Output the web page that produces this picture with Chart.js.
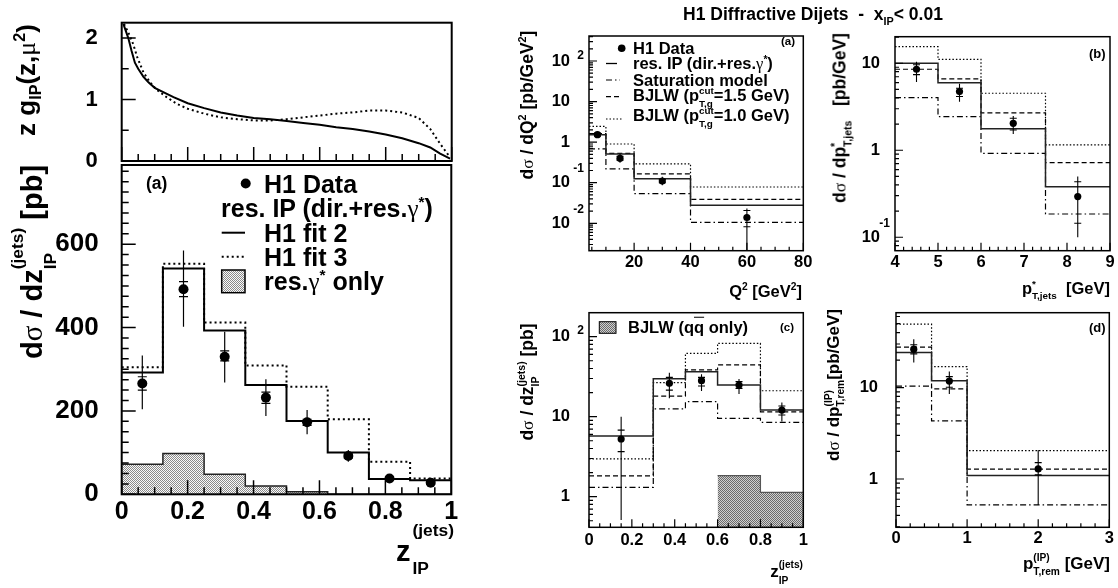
<!DOCTYPE html>
<html>
<head>
<meta charset="utf-8">
<title>H1 Diffractive Dijets</title>
<script src="https://cdn.jsdelivr.net/npm/chart.js@4.4.1/dist/chart.umd.min.js"></script>
<style>
  body { margin: 0; background: #fff; }
  #page { position: relative; width: 1118px; height: 588px; overflow: hidden;
          font-family: "Liberation Sans", Arial, Helvetica, sans-serif; font-weight: bold; color: #000; }
  #page canvas { position: absolute; left: 0; top: 0; }
  .t { position: absolute; white-space: nowrap; line-height: 1; z-index: 2; transform: translateY(-50%); }
  .r { transform: translate(-100%, -50%); }
  .c { transform: translate(-50%, -50%); }
  .rot { transform: translate(-50%, -50%) rotate(-90deg); }
  .g { font-family: "Liberation Serif", "DejaVu Serif", serif; font-weight: normal; }
  .t sup, .t sub { font-size: 0.62em; line-height: 0; }
  .ss { display: inline-flex; flex-direction: column; vertical-align: middle; font-size: 0.6em; line-height: 1; row-gap: 0.5em; }
</style>
</head>
<body>
<div id="page">
  <canvas id="cG" width="1118" height="588"></canvas>
  <canvas id="cZ" width="1118" height="588"></canvas>
  <canvas id="cQ" width="1118" height="588"></canvas>
  <canvas id="cP" width="1118" height="588"></canvas>
  <canvas id="cC" width="1118" height="588"></canvas>
  <canvas id="cD" width="1118" height="588"></canvas>

  <!-- titles -->
  <div class="t c" style="left:813px;top:15px;font-size:17.5px">H1 Diffractive Dijets &nbsp;- &nbsp;x<sub>IP</sub>&lt; 0.01</div>

  <!-- left panels -->
  <div class="t rot" style="left:26px;top:80px;font-size:26px">z g<sub>IP</sub>(z,<span class="g">μ</span><sup>2</sup>)</div>
  <div class="t rot" style="left:34px;top:262px;font-size:29px">d<span class="g">σ</span> / dz<span class="ss" style="row-gap:0.9em"><span>(jets)</span><span>IP</span></span> [pb]</div>
  <div class="t r" style="left:452px;top:553px;font-size:29px">z<span class="ss" style="row-gap:1.2em;position:relative;top:-3px;left:2px"><span>(jets)</span><span>IP</span></span></div>

  <div class="t" style="left:146px;top:184px;font-size:17.5px">(a)</div>
  <div class="t" style="left:264px;top:184px;font-size:25px">H1 Data</div>
  <div class="t" style="left:221px;top:208px;font-size:25px">res. IP (dir.+res.<span class="g">γ</span><sup>*</sup>)</div>
  <div class="t" style="left:264px;top:233px;font-size:25px">H1 fit 2</div>
  <div class="t" style="left:264px;top:257px;font-size:25px">H1 fit 3</div>
  <div class="t" style="left:264px;top:281px;font-size:25px">res.<span class="g">γ</span><sup>*</sup> only</div>

  <!-- right (a) -->
  <div class="t rot" style="left:528px;top:105px;font-size:17.5px">d<span class="g">σ</span> / dQ<sup>2</sup> [pb/GeV<sup>2</sup>]</div>
  <div class="t r" style="left:802px;top:291px;font-size:16.5px">Q<sup>2</sup> [GeV<sup>2</sup>]</div>
  <div class="t" style="left:781px;top:42px;font-size:11.5px">(a)</div>
  <div class="t" style="left:633px;top:48px;font-size:16.5px">H1 Data</div>
  <div class="t" style="left:633px;top:64px;font-size:16.5px">res. IP (dir.+res.<span class="g">γ</span><sup>*</sup>)</div>
  <div class="t" style="left:633px;top:80px;font-size:16.5px">Saturation model</div>
  <div class="t" style="left:633px;top:97px;font-size:16.5px">BJLW (p<span class="ss" style="row-gap:0.3em"><span>cut</span><span>T,g</span></span>=1.5 GeV)</div>
  <div class="t" style="left:633px;top:117px;font-size:16.5px">BJLW (p<span class="ss" style="row-gap:0.3em"><span>cut</span><span>T,g</span></span>=1.0 GeV)</div>

  <!-- right (b) -->
  <div class="t rot" style="left:841px;top:118px;font-size:17.5px">d<span class="g">σ</span> / dp<span class="ss" style="row-gap:0.2em"><span>*</span><span>T,jets</span></span> &nbsp; [pb/GeV]</div>
  <div class="t r" style="left:1110px;top:290px;font-size:16.5px">p<span class="ss" style="row-gap:0.2em"><span>*</span><span>T,jets</span></span> &nbsp;[GeV]</div>
  <div class="t" style="left:1089px;top:53px;font-size:13px">(b)</div>

  <!-- right (c) -->
  <div class="t rot" style="left:528px;top:382px;font-size:17.5px">d<span class="g">σ</span> / dz<span class="ss" style="row-gap:0.3em"><span>(jets)</span><span>IP</span></span> [pb]</div>
  <div class="t r" style="left:803px;top:573px;font-size:17px">z<span class="ss" style="row-gap:0.6em"><span>(jets)</span><span>IP</span></span></div>
  <div class="t" style="left:780px;top:328px;font-size:11.5px">(c)</div>
  <div class="t" style="left:628px;top:327px;font-size:16.5px">BJLW (q<span style="text-decoration:overline">q</span> only)</div>

  <!-- right (d) -->
  <div class="t rot" style="left:835px;top:385px;font-size:17px">d<span class="g">σ</span> / dp<span class="ss" style="row-gap:0.2em"><span>(IP)</span><span>T,rem</span></span>[pb/GeV]</div>
  <div class="t r" style="left:1110px;top:565px;font-size:17px">p<span class="ss" style="row-gap:0.4em"><span>(IP)</span><span>T,rem</span></span> [GeV]</div>
  <div class="t" style="left:1089px;top:327px;font-size:13px">(d)</div>
</div>

<script>
const W = 1118, H = 588;

// ---- upper left: z g_IP(z, mu^2), H1 fit 2 and fit 3
const gZ2 = [0.005, 0.02, 0.03, 0.04, 0.05, 0.066, 0.081, 0.1, 0.126, 0.157, 0.2, 0.25, 0.3, 0.35, 0.4, 0.45, 0.5, 0.55, 0.6, 0.65, 0.7, 0.75, 0.8, 0.85, 0.9, 0.935, 0.965, 0.995];
const gFit2 = [2.23, 2.0, 1.79, 1.6, 1.5, 1.37, 1.28, 1.19, 1.12, 1.04, 0.94, 0.86, 0.79, 0.74, 0.70, 0.68, 0.65, 0.62, 0.59, 0.55, 0.52, 0.48, 0.43, 0.37, 0.29, 0.22, 0.12, 0.04];
const gZ3 = [0.007, 0.02, 0.035, 0.047, 0.066, 0.086, 0.106, 0.136, 0.167, 0.2, 0.25, 0.3, 0.35, 0.4, 0.45, 0.5, 0.55, 0.6, 0.65, 0.7, 0.75, 0.8, 0.85, 0.9, 0.935, 0.965, 0.995];
const gFit3 = [2.23, 2.09, 1.9, 1.69, 1.44, 1.28, 1.16, 1.04, 0.93, 0.85, 0.77, 0.71, 0.68, 0.66, 0.66, 0.68, 0.71, 0.74, 0.77, 0.79, 0.82, 0.82, 0.79, 0.70, 0.52, 0.28, 0.06];
const gTicks = [0, 1, 2];
const gTickText = ['0', '1', '2'];

// ---- lower left (a): dsigma/dz_IP [pb]
const zEdges = [0, 0.125, 0.25, 0.375, 0.5, 0.625, 0.75, 0.875, 1];
const zFit2 = [292, 542, 393, 262, 176, 100, 37, 34];
const zFit3 = [305, 553, 412, 309, 258, 180, 78, 38];
const zResGam = [72, 98, 48, 20, 6, 0, 0, 0];
const zX = [0.0625, 0.1875, 0.3125, 0.4375, 0.5625, 0.6875, 0.8125, 0.9375];
const zData = [266, 492, 330, 232, 173, 92, 38, 28];
const zStatLo = [250, 474, 320, 218, 165, 87, 35, 25];
const zStatHi = [282, 510, 344, 245, 180, 97, 41, 31];
const zTotLo = [204, 402, 268, 188, 144, 78, 32, 23];
const zTotHi = [333, 585, 390, 276, 202, 106, 44, 33];
const zXTicks = [0, 0.2, 0.4, 0.6, 0.8, 1];
const zXText = ['0', '0.2', '0.4', '0.6', '0.8', '1'];
const zYTicks = [0, 200, 400, 600];
const zYText = ['0', '200', '400', '600'];

// ---- right (a): dsigma/dQ2
const qEdges = [4, 10, 20, 40, 80];
const qResIP = [1.53, 0.51, 0.125, 0.028];
const qSat = [0.68, 0.22, 0.054, 0.0105];
const qB15 = [1.62, 0.53, 0.166, 0.039];
const qB10 = [2.45, 0.90, 0.29, 0.0785];
const qX = [7, 15, 30, 60];
const qData = [1.53, 0.40, 0.110, 0.0139];
const qStatLo = [1.40, 0.36, 0.100, 0.0082];
const qStatHi = [1.67, 0.45, 0.121, 0.0206];
const qTotLo = [1.30, 0.31, 0.086, 0.0015];
const qTotHi = [1.80, 0.52, 0.141, 0.023];
const qXTicks = [20, 40, 60, 80];
const qXText = ['20', '40', '60', '80'];
const qYTicks = [100, 10, 1, 0.1, 0.01];
const qYText = ['10^2', '10', '1', '10^-1', '10^-2'];

// ---- right (b): dsigma/dp*_T,jets
const pEdges = [4, 5, 6, 7.5, 9];
const pResIP = [10, 5.98, 1.77, 0.38];
const pSat = [4.03, 2.43, 0.92, 0.185];
const pB15 = [8.53, 6.6, 2.69, 0.72];
const pB10 = [15.5, 11.1, 4.52, 1.15];
const pX = [4.5, 5.5, 6.75, 8.25];
const pData = [8.53, 4.72, 2.04, 0.293];
const pStatLo = [7.4, 4.14, 1.71, 0.145];
const pStatHi = [9.6, 5.16, 2.33, 0.435];
const pTotLo = [6.1, 3.6, 1.54, 0.1];
const pTotHi = [10.4, 5.8, 2.48, 0.50];
const pXTicks = [4, 5, 6, 7, 8, 9];
const pXText = ['4', '5', '6', '7', '8', '9'];
const pYTicks = [10, 1, 0.1];
const pYText = ['10', '1', '10^-1'];

// ---- right (c): dsigma/dz_IP (log)
const cEdges = [0, 0.3, 0.45, 0.6, 0.8, 1];
const cResIP = [5.74, 29.9, 36.5, 24.9, 12.1];
const cSat = [1.31, 12.5, 15.4, 9.5, 8.5];
const cB15 = [1.82, 18.1, 38.4, 44.3, 11.5];
const cB10 = [2.96, 26.6, 61.8, 82.7, 21.1];
const cQQ = [0, 0, 0, 1.83, 1.13];
const cX = [0.15, 0.375, 0.525, 0.7, 0.9];
const cData = [5.26, 26.1, 28.2, 24.9, 12.1];
const cStatLo = [3.66, 21.5, 24.2, 22.6, 10.5];
const cStatHi = [6.8, 31, 31, 27.4, 13.6];
const cTotLo = [0.51, 17, 21, 19.2, 8.7];
const cTotHi = [10, 35.5, 34, 29.6, 15];
const cXTicks = [0, 0.2, 0.4, 0.6, 0.8, 1];
const cXText = ['0', '0.2', '0.4', '0.6', '0.8', '1'];
const cYTicks = [100, 10, 1];
const cYText = ['10^2', '10', '1'];

// ---- right (d): dsigma/dp_T,rem
const dEdges = [0, 0.5, 1, 3];
const dResIP = [24.2, 11.9, 1.09];
const dSat = [10.4, 4.32, 0.52];
const dB15 = [27.7, 9.68, 1.28];
const dB10 = [49.4, 17.0, 2.04];
const dX = [0.25, 0.75, 2];
const dData = [26.3, 11.8, 1.29];
const dStatLo = [23.4, 10.1, 1.11];
const dStatHi = [29.4, 13.2, 1.51];
const dTotLo = [18.8, 8.5, 0.52];
const dTotHi = [33.9, 15, 2.08];
const dXTicks = [0, 1, 2, 3];
const dXText = ['0', '1', '2', '3'];
const dYTicks = [10, 1];
const dYText = ['10', '1'];

// line styles
const DOT = [2, 3], DASH = [6, 4];
const DOT_R = [1.5, 2], DASH_R = [5, 3], DD_R = [6, 3, 1.5, 3];
const FONT = '"Liberation Sans", Arial, sans-serif';

function range(a, b, s) {
  const out = [];
  for (let v = a; v <= b + 1e-9; v += s) out.push(+v.toFixed(6));
  return out;
}
function logMinors(min, max) {
  const out = [];
  for (let d = Math.floor(Math.log10(min)); d <= Math.ceil(Math.log10(max)); d++) {
    for (let k = 2; k <= 9; k++) {
      const v = k * Math.pow(10, d);
      if (v > min && v < max) out.push(v);
    }
  }
  return out;
}
function dots(bg, fg) {
  const c = document.createElement('canvas');
  c.width = c.height = 2;
  const x = c.getContext('2d');
  x.fillStyle = bg; x.fillRect(0, 0, 2, 2);
  x.fillStyle = fg; x.fillRect(0, 0, 1, 1); x.fillRect(1, 1, 1, 1);
  return x.createPattern(c, 'repeat');
}
const hatchLeft = dots('#fafafa', '#8a8a8a');
const hatchRight = dots('#cfcfcf', '#6a6a6a');

function steps(edges, vals, dash, lw, color, extra) {
  const pts = vals.map((v, i) => ({ x: edges[i], y: v }));
  pts.push({ x: edges[edges.length - 1], y: vals[vals.length - 1] });
  return Object.assign({
    data: pts.filter(p => p.y > 0 || !extra || !extra.skipZero),
    stepped: true, borderColor: color, borderWidth: lw, borderDash: dash,
    pointRadius: 0, fill: false
  }, extra || {});
}
function curve(xs, ys, dash) {
  return { data: xs.map((x, i) => ({ x, y: ys[i] })), borderColor: '#000', borderWidth: 2,
           borderDash: dash, pointRadius: 0, tension: 0, fill: false };
}
function points(xs, ys, r) {
  return { data: xs.map((x, i) => ({ x, y: ys[i] })), showLine: false, pointRadius: r,
           pointBackgroundColor: '#000', pointBorderColor: '#000', pointBorderWidth: 0 };
}

function framePlugin(cfg) {
  return {
    id: 'frame' + cfg.id,
    afterDatasetsDraw(chart) {
      const { ctx, chartArea: a, scales: { x, y } } = chart;
      ctx.save();
      if (cfg.err) {
        const e = cfg.err;
        ctx.beginPath();
        ctx.rect(a.left, a.top, a.right - a.left, a.bottom - a.top);
        ctx.clip();
        ctx.strokeStyle = '#000';
        ctx.lineWidth = e.lw;
        e.x.forEach((xv, i) => {
          const px = x.getPixelForValue(xv);
          ctx.beginPath();
          ctx.moveTo(px, y.getPixelForValue(e.totLo[i]));
          ctx.lineTo(px, y.getPixelForValue(e.totHi[i]));
          [e.statLo[i], e.statHi[i]].forEach(v => {
            const py = y.getPixelForValue(v);
            ctx.moveTo(px - e.cap, py);
            ctx.lineTo(px + e.cap, py);
          });
          ctx.stroke();
        });
        ctx.restore();
        ctx.save();
      }
      ctx.strokeStyle = '#000';
      ctx.lineWidth = cfg.frameW;
      ctx.strokeRect(a.left, a.top, a.right - a.left, a.bottom - a.top);
      // inward ticks
      ctx.lineWidth = cfg.tickW;
      ctx.beginPath();
      const xt = (v, len) => { const p = x.getPixelForValue(v); ctx.moveTo(p, a.bottom); ctx.lineTo(p, a.bottom - len); };
      const yt = (v, len) => { const p = y.getPixelForValue(v); ctx.moveTo(a.left, p); ctx.lineTo(a.left + len, p); };
      cfg.xMaj.forEach(v => xt(v, cfg.tlMaj));
      cfg.xMin.forEach(v => xt(v, cfg.tlMin));
      cfg.yMaj.forEach(v => yt(v, cfg.tlMaj));
      cfg.yMin.forEach(v => yt(v, cfg.tlMin));
      ctx.stroke();
      // tick labels
      ctx.fillStyle = '#000';
      if (cfg.xLab) {
        ctx.font = 'bold ' + cfg.xLab.font + 'px ' + FONT;
        ctx.textAlign = 'center';
        ctx.textBaseline = 'middle';
        cfg.xLab.vals.forEach((v, i) => ctx.fillText(cfg.xLab.text[i], x.getPixelForValue(v), a.bottom + cfg.xLab.off));
      }
      if (cfg.yLab) {
        const L = cfg.yLab;
        cfg.yLab.vals.forEach((v, i) => {
          const py = y.getPixelForValue(v);
          const [base, exp] = L.text[i].split('^');
          ctx.font = 'bold ' + L.font + 'px ' + FONT;
          ctx.textAlign = 'right';
          ctx.textBaseline = 'middle';
          ctx.fillText(base, a.left - L.gap, py);
          if (exp) {
            ctx.font = 'bold ' + L.expFont + 'px ' + FONT;
            ctx.textAlign = 'right';
            const up = exp[0] === '-' ? 0.85 : 0.35;
            ctx.fillText(exp, a.left - 5, py - up * L.font);
          }
        });
      }
      ctx.restore();
    },
    afterDraw(chart) {
      if (!cfg.legend) return;
      const ctx = chart.ctx;
      ctx.save();
      cfg.legend.forEach(it => {
        ctx.setLineDash(it.dash || []);
        ctx.strokeStyle = '#000';
        ctx.lineWidth = it.lw || 1.5;
        if (it.kind === 'dot') {
          ctx.fillStyle = '#000';
          ctx.beginPath(); ctx.arc(it.x, it.y, it.r, 0, Math.PI * 2); ctx.fill();
        } else if (it.kind === 'line') {
          ctx.beginPath(); ctx.moveTo(it.x1, it.y); ctx.lineTo(it.x2, it.y); ctx.stroke();
        } else if (it.kind === 'box') {
          ctx.fillStyle = it.fill;
          ctx.fillRect(it.x, it.y, it.w, it.h);
          ctx.strokeRect(it.x, it.y, it.w, it.h);
        }
      });
      ctx.restore();
    }
  };
}

function makeChart(cfg) {
  const [x1, y1, x2, y2] = cfg.area;
  return new Chart(document.getElementById(cfg.id), {
    type: 'line',
    data: { datasets: cfg.datasets },
    options: {
      responsive: false,
      animation: false,
      events: [],
      layout: { autoPadding: false, padding: { left: x1, top: y1, right: W - x2, bottom: H - y2 } },
      plugins: { legend: { display: false }, tooltip: { enabled: false } },
      scales: {
        x: { type: 'linear', display: false, min: cfg.xr[0], max: cfg.xr[1], bounds: 'data' },
        y: { type: cfg.log ? 'logarithmic' : 'linear', display: false, min: cfg.yr[0], max: cfg.yr[1], bounds: 'data' }
      }
    },
    plugins: [framePlugin(cfg)]
  });
}

const leftStyle = { frameW: 2, tickW: 1.5, tlMaj: 14, tlMin: 7 };
const rightStyle = { frameW: 1.5, tickW: 1.2, tlMaj: 8, tlMin: 4 };

// upper left
makeChart(Object.assign({
  id: 'cG', area: [121.7, 22.7, 451.7, 161], xr: [0, 1], yr: [0, 2.25],
  xMaj: range(0, 1, 0.2), xMin: range(0, 1, 0.05), yMaj: gTicks, yMin: [0.5, 1.5],
  yLab: { vals: gTicks, text: gTickText, font: 22, gap: 24 },
  datasets: [curve(gZ2, gFit2, []), curve(gZ3, gFit3, DOT)]
}, leftStyle));

// lower left (a)
makeChart(Object.assign({
  id: 'cZ', area: [121.7, 165, 451.3, 494.3], xr: [0, 1], yr: [0, 790],
  xMaj: range(0, 1, 0.2), xMin: range(0, 1, 0.05), yMaj: zYTicks, yMin: range(0, 775, 25),
  xLab: { vals: zXTicks, text: zXText, font: 25, off: 18 },
  yLab: { vals: zYTicks, text: zYText, font: 26, gap: 23 },
  err: { x: zX, statLo: zStatLo, statHi: zStatHi, totLo: zTotLo, totHi: zTotHi, cap: 4.5, lw: 1.2 },
  legend: [
    { kind: 'dot', x: 245.7, y: 183.5, r: 5 },
    { kind: 'line', x1: 221.7, x2: 245, y: 232.7, lw: 2 },
    { kind: 'line', x1: 221.7, x2: 245, y: 256.7, lw: 2, dash: DOT },
    { kind: 'box', x: 221.7, y: 270, w: 23.3, h: 22.7, fill: hatchLeft, lw: 1.5 }
  ],
  datasets: [
    points(zX, zData, 5),
    steps(zEdges, zFit2, [], 2, '#000'),
    steps(zEdges, zFit3, DOT, 2, '#000'),
    steps(zEdges, zResGam, [], 1.5, '#222', { fill: 'start', backgroundColor: hatchLeft })
  ]
}, leftStyle));

// right (a)
makeChart(Object.assign({
  id: 'cQ', area: [589, 36, 803.3, 250.7], xr: [4, 80], yr: [0.00211, 413], log: true,
  xMaj: qXTicks, xMin: range(5, 80, 5), yMaj: qYTicks, yMin: logMinors(0.00211, 413),
  xLab: { vals: qXTicks, text: qXText, font: 16.5, off: 12 },
  yLab: { vals: qYTicks, text: qYText, font: 16.5, expFont: 12, gap: 19 },
  err: { x: qX, statLo: qStatLo, statHi: qStatHi, totLo: qTotLo, totHi: qTotHi, cap: 3.5, lw: 1.1 },
  legend: [
    { kind: 'dot', x: 621.7, y: 48.3, r: 3.8 },
    { kind: 'line', x1: 606, x2: 617, y: 63.5, lw: 1.3 },
    { kind: 'line', x1: 606, x2: 620, y: 80, lw: 1.2, dash: DD_R },
    { kind: 'line', x1: 606, x2: 620, y: 96.7, lw: 1.2, dash: DASH_R },
    { kind: 'line', x1: 606, x2: 622, y: 119, lw: 1.2, dash: DOT_R }
  ],
  datasets: [
    points(qX, qData, 3.6),
    steps(qEdges, qResIP, [], 1.5, '#222'),
    steps(qEdges, qB15, DASH_R, 1.2, '#000'),
    steps(qEdges, qB10, DOT_R, 1.2, '#000'),
    steps(qEdges, qSat, DD_R, 1.2, '#000')
  ]
}, rightStyle));

// right (b)
makeChart(Object.assign({
  id: 'cP', area: [895, 36.7, 1110, 250.7], xr: [4, 9], yr: [0.070, 20.2], log: true,
  xMaj: pXTicks, xMin: range(4, 9, 0.2), yMaj: pYTicks, yMin: logMinors(0.070, 20.2),
  xLab: { vals: pXTicks, text: pXText, font: 16.5, off: 12 },
  yLab: { vals: pYTicks, text: pYText, font: 16.5, expFont: 12, gap: 15 },
  err: { x: pX, statLo: pStatLo, statHi: pStatHi, totLo: pTotLo, totHi: pTotHi, cap: 3.5, lw: 1.1 },
  datasets: [
    points(pX, pData, 3.6),
    steps(pEdges, pResIP, [], 1.5, '#222'),
    steps(pEdges, pB15, DASH_R, 1.2, '#000'),
    steps(pEdges, pB10, DOT_R, 1.2, '#000'),
    steps(pEdges, pSat, DD_R, 1.2, '#000')
  ]
}, rightStyle));

// right (c)
makeChart(Object.assign({
  id: 'cC', area: [589, 312.7, 803.3, 527.3], xr: [0, 1], yr: [0.414, 199.5], log: true,
  xMaj: cXTicks, xMin: range(0, 1, 0.05), yMaj: cYTicks, yMin: logMinors(0.414, 199.5),
  xLab: { vals: cXTicks, text: cXText, font: 16.5, off: 13 },
  yLab: { vals: cYTicks, text: cYText, font: 16.5, expFont: 12, gap: 19 },
  err: { x: cX, statLo: cStatLo, statHi: cStatHi, totLo: cTotLo, totHi: cTotHi, cap: 3.5, lw: 1.1 },
  legend: [
    { kind: 'box', x: 599.3, y: 321.7, w: 16.7, h: 11.6, fill: hatchRight, lw: 1 }
  ],
  datasets: [
    points(cX, cData, 3.6),
    steps(cEdges, cResIP, [], 1.5, '#222'),
    steps(cEdges, cB15, DASH_R, 1.2, '#000'),
    steps(cEdges, cB10, DOT_R, 1.2, '#000'),
    steps(cEdges, cSat, DD_R, 1.2, '#000'),
    steps(cEdges, cQQ, [], 1.2, '#555', { fill: 'start', backgroundColor: hatchRight, skipZero: true })
  ]
}, rightStyle));

// right (d)
makeChart(Object.assign({
  id: 'cD', area: [896, 312.7, 1109.3, 527.3], xr: [0, 3], yr: [0.296, 66], log: true,
  xMaj: dXTicks, xMin: range(0, 3, 0.2), yMaj: dYTicks, yMin: logMinors(0.296, 66),
  xLab: { vals: dXTicks, text: dXText, font: 16.5, off: 11 },
  yLab: { vals: dYTicks, text: dYText, font: 16.5, expFont: 12, gap: 18 },
  err: { x: dX, statLo: dStatLo, statHi: dStatHi, totLo: dTotLo, totHi: dTotHi, cap: 3.5, lw: 1.1 },
  datasets: [
    points(dX, dData, 3.6),
    steps(dEdges, dResIP, [], 1.5, '#222'),
    steps(dEdges, dB15, DASH_R, 1.2, '#000'),
    steps(dEdges, dB10, DOT_R, 1.2, '#000'),
    steps(dEdges, dSat, DD_R, 1.2, '#000')
  ]
}, rightStyle));
</script>
</body>
</html>
